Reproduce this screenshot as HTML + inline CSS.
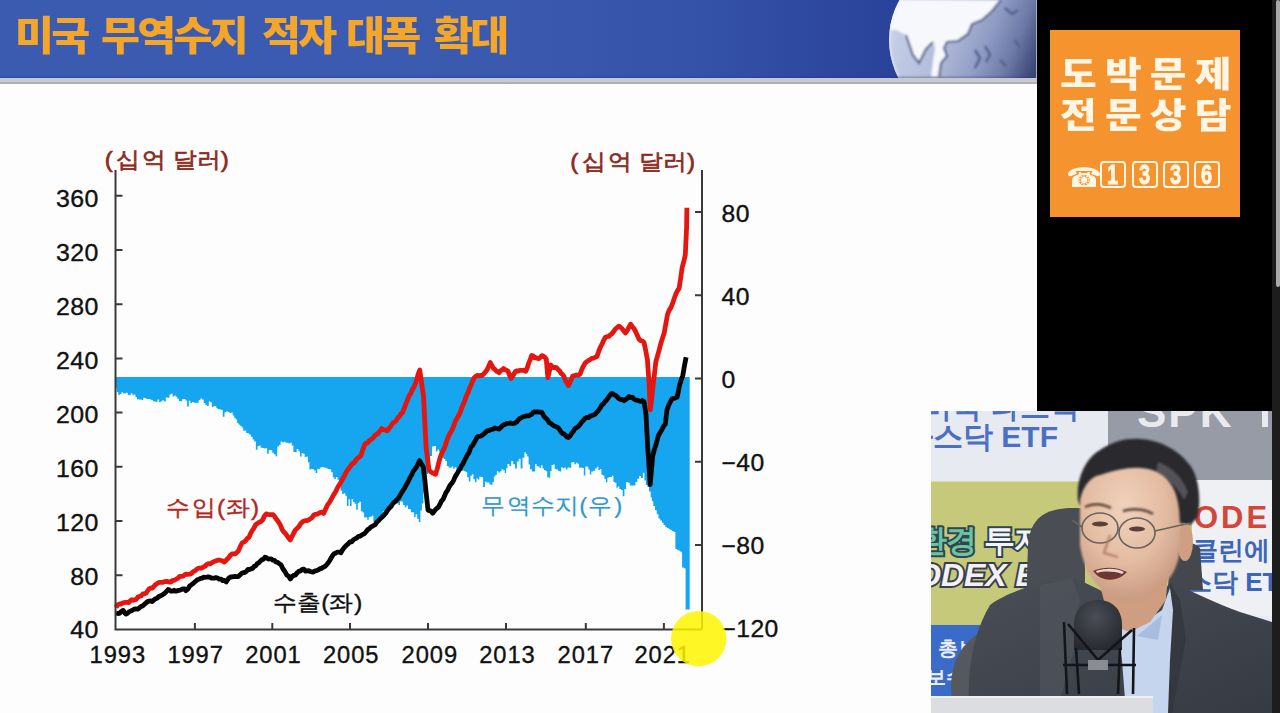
<!DOCTYPE html>
<html lang="ko">
<head>
<meta charset="utf-8">
<title>미국 무역수지 적자 대폭 확대</title>
<style>
html,body{margin:0;padding:0;}
body{width:1280px;height:713px;overflow:hidden;position:relative;background:#fdfdfd;font-family:"Liberation Sans","Noto Sans CJK KR",sans-serif;}
.abs{position:absolute;}
#hdr{left:0;top:0;width:1036px;height:78px;overflow:hidden;
  background:linear-gradient(90deg,#3a5bb0 0%,#3a5bb1 35%,#3a59ae 52%,#3452a8 68%,#2d479f 80%,#2a4299 87%,#283e95 100%);}
#title{left:0;top:8px;width:1036px;height:60px;font-family:"Liberation Sans","Noto Sans CJK KR",sans-serif;font-weight:900;font-size:40px;line-height:56px;color:#f3a62a;letter-spacing:-2.6px;white-space:nowrap;}
#title span{position:absolute;top:0;transform:scaleX(1.06);transform-origin:0 0;}
#strip{left:0;top:78px;width:1037px;height:6px;background:linear-gradient(#c3c8cf,#c8ccd2 40%,#c4c7cc 70%,#a4a5a9 78%,#b8b9bc 100%);}
#hshade{left:0;top:75px;width:1036px;height:3px;background:linear-gradient(rgba(40,50,110,0),rgba(40,50,110,0.35));}
#rpanel{left:1037px;top:0;width:235px;height:411px;background:#000;}
#rline{left:1035.5px;top:0;width:1.5px;height:78px;background:#a9aeb8;}
#obox{left:1050px;top:30px;width:190px;height:187px;background:#f5932f;}
#scroll{left:1272px;top:0;width:8px;height:713px;background:#1d1d1d;}
#thumb{left:1276px;top:0;width:4px;height:287px;background:#aaaaaa;border-radius:2px;}
svg text{font-family:"Liberation Sans",sans-serif;}
#video{left:931px;top:411px;width:341px;height:302px;overflow:hidden;background:#e7eaf0;}
#video div{position:absolute;}
</style>
</head>
<body>
<div id="hdr" class="abs">
  <svg width="1036" height="78" style="position:absolute;left:0;top:0">
    <defs>
      <linearGradient id="ocean" x1="0" y1="0" x2="1" y2="0.4">
        <stop offset="0" stop-color="#d3daee"/>
        <stop offset="0.45" stop-color="#b4bedc"/>
        <stop offset="0.7" stop-color="#8f9bc3"/>
        <stop offset="0.86" stop-color="#6c79a6"/>
        <stop offset="1" stop-color="#3c4878"/>
      </linearGradient>
      <clipPath id="gc"><circle cx="970" cy="40" r="81"/></clipPath>
      <filter id="gb"><feGaussianBlur stdDeviation="0.8"/></filter>
    </defs>
    <circle cx="970" cy="40" r="81" fill="url(#ocean)"/>
    <g clip-path="url(#gc)" filter="url(#gb)">
      <path d="M880,0 L1001,0 L992,11 L982,20 L972,24 L968,34 L958,41 L947,42 L944,48 L947,56 L941,63 L939,77 L931,77 L933,60 L935,48 L933,42 L926,49 L919,63 L913,55 L906,35 L896,30 L880,30 Z" fill="#f6f8fc"/>
      <path d="M1001,0 L992,11 L982,20 L972,24 L968,34 L958,41 L947,42 L944,48 L947,56 L941,63 L939,77 M933,42 L926,49 L919,63 L913,55 L906,35" stroke="#5d6890" stroke-width="2.2" fill="none"/>
      <path d="M1005,8 L1012,14 L1018,10 M985,46 L990,55 L986,62 M1000,60 L1006,66 M1015,40 L1020,48 M975,50 L980,58 L975,68" stroke="#56628c" stroke-width="2.5" fill="none"/>
      <circle cx="970" cy="40" r="81" fill="none" stroke="#eef1f8" stroke-width="4" opacity="0.5"/>
    </g>
  </svg>
  <div id="title" class="abs"><span style="left:14.5px">미국</span><span style="left:101px">무역수지</span><span style="left:261.7px">적자</span><span style="left:346px">대폭</span><span style="left:433.6px">확대</span></div>
</div>
<div id="hshade" class="abs"></div><div id="strip" class="abs"></div>
<div id="rline" class="abs"></div>
<div id="rpanel" class="abs"></div>
<div id="obox" class="abs">
  <div class="ot" style="left:10px;top:25px;">도박문제</div>
  <div class="ot" style="left:10px;top:66px;">전문상담</div>
  <div class="ph">☎</div>
  <div class="bx" style="left:50px"><span>1</span></div>
  <div class="bx" style="left:82px"><span>3</span></div>
  <div class="bx" style="left:113px"><span>3</span></div>
  <div class="bx" style="left:144px"><span>6</span></div>
</div>
<style>
.ot{position:absolute;font-family:"Liberation Sans","Noto Sans CJK KR",sans-serif;font-weight:900;color:#fff6e6;white-space:nowrap;font-size:35px;line-height:40px;letter-spacing:7.2px;transform:scaleX(1.14);transform-origin:0 0;}
.ph{position:absolute;left:16px;top:131px;font-family:"DejaVu Sans",sans-serif;font-size:29px;line-height:34px;color:#fff6e6;transform:scaleY(0.92);transform-origin:0 50%;}
.bx{position:absolute;top:131px;width:22px;height:22.5px;border:2px solid #fff6e6;border-radius:4px;font-family:"Liberation Sans",sans-serif;font-weight:700;font-size:27px;line-height:25px;text-align:center;color:#fff6e6;}
.bx span{display:inline-block;transform:scaleX(0.74);-webkit-text-stroke:0.9px #fff6e6;}
</style>
<div id="scroll" class="abs"></div>
<div id="thumb" class="abs"></div>

<svg class="abs" style="left:0;top:0" width="1280" height="713">
  <polygon points="115.5,377.0 116.0,388.2 116.7,388.2 116.7,392.0 118.3,392.0 118.3,395.1 119.8,395.1 119.8,393.9 121.4,393.9 121.4,392.3 123.0,392.3 123.0,393.2 124.6,393.2 124.6,393.5 126.1,393.5 126.1,392.7 127.7,392.7 127.7,395.1 129.3,395.1 129.3,395.0 130.8,395.0 130.8,393.2 132.4,393.2 132.4,395.0 133.9,395.0 133.9,394.4 135.4,394.4 135.4,396.9 136.9,396.9 136.9,399.2 138.5,399.2 138.5,399.6 140.1,399.6 140.1,399.4 141.7,399.4 141.7,400.0 143.3,400.0 143.3,397.7 144.8,397.7 144.8,398.2 146.4,398.2 146.4,399.1 148.0,399.1 148.0,398.9 149.6,398.9 149.6,399.3 151.2,399.3 151.2,400.1 152.8,400.1 152.8,401.3 154.4,401.3 154.4,401.5 156.0,401.5 156.0,401.9 157.5,401.9 157.5,399.6 159.1,399.6 159.1,402.2 160.7,402.2 160.7,401.2 162.3,401.2 162.3,400.3 163.9,400.3 163.9,401.6 165.8,401.6 165.8,397.5 167.6,397.5 167.6,397.7 169.5,397.7 169.5,394.5 171.1,394.5 171.1,393.7 172.6,393.7 172.6,396.6 174.2,396.6 174.2,395.6 175.7,395.6 175.7,396.7 177.3,396.7 177.3,398.7 178.9,398.7 178.9,401.0 180.6,401.0 180.6,401.3 182.2,401.3 182.2,398.9 183.8,398.9 183.8,399.0 185.5,399.0 185.5,400.5 187.1,400.5 187.1,406.4 188.8,406.4 188.8,400.8 190.4,400.8 190.4,402.9 192.0,402.9 192.0,401.9 193.7,401.9 193.7,402.7 195.3,402.7 195.3,402.8 197.0,402.8 197.0,402.8 198.7,402.8 198.7,400.1 200.3,400.1 200.3,398.4 202.0,398.4 202.0,399.5 203.7,399.5 203.7,403.1 205.4,403.1 205.4,405.1 207.1,405.1 207.1,406.1 208.8,406.1 208.8,401.3 210.3,401.3 210.3,402.3 211.8,402.3 211.8,407.1 213.3,407.1 213.3,405.9 214.8,405.9 214.8,405.9 216.3,405.9 216.3,408.3 217.8,408.3 217.8,408.9 219.5,408.9 219.5,409.5 221.2,409.5 221.2,409.8 222.8,409.8 222.8,416.7 224.5,416.7 224.5,412.3 226.2,412.3 226.2,411.3 227.8,411.3 227.8,411.9 229.5,411.9 229.5,413.0 231.2,413.0 231.2,412.6 232.7,412.6 232.7,415.5 234.2,415.5 234.2,418.1 235.7,418.1 235.7,419.5 237.2,419.5 237.2,423.2 238.7,423.2 238.7,424.8 240.2,424.8 240.2,426.1 241.7,426.1 241.7,427.6 243.2,427.6 243.2,430.8 244.7,430.8 244.7,430.5 246.2,430.5 246.2,432.9 247.7,432.9 247.7,433.3 249.2,433.3 249.2,434.5 250.9,434.5 250.9,436.7 252.6,436.7 252.6,439.4 254.2,439.4 254.2,441.6 255.9,441.6 255.9,449.8 257.5,449.8 257.5,446.0 259.1,446.0 259.1,445.5 260.7,445.5 260.7,447.8 262.3,447.8 262.3,448.0 263.9,448.0 263.9,448.6 265.5,448.6 265.5,448.3 267.1,448.3 267.1,453.8 268.8,453.8 268.8,449.9 270.5,449.9 270.5,450.0 272.2,450.0 272.2,452.8 273.9,452.8 273.9,454.3 275.6,454.3 275.6,456.2 277.2,456.2 277.2,446.5 278.9,446.5 278.9,445.1 280.6,445.1 280.6,441.5 282.2,441.5 282.2,442.5 283.8,442.5 283.8,441.7 285.4,441.7 285.4,442.7 287.0,442.7 287.0,442.7 288.6,442.7 288.6,443.5 290.2,443.5 290.2,442.8 291.8,442.8 291.8,445.4 293.4,445.4 293.4,452.1 295.1,452.1 295.1,452.3 296.7,452.3 296.7,449.0 298.4,449.0 298.4,451.3 300.0,451.3 300.0,456.5 301.6,456.5 301.6,453.1 303.1,453.1 303.1,453.7 304.7,453.7 304.7,456.9 306.3,456.9 306.3,456.6 307.9,456.6 307.9,462.2 309.4,462.2 309.4,469.4 310.9,469.4 310.9,469.0 312.5,469.0 312.5,469.3 314.1,469.3 314.1,470.4 315.6,470.4 315.6,473.1 317.2,473.1 317.2,468.9 318.7,468.9 318.7,468.8 320.3,468.8 320.3,467.6 321.9,467.6 321.9,467.0 323.4,467.0 323.4,467.6 325.0,467.6 325.0,467.8 326.5,467.8 326.5,468.4 328.1,468.4 328.1,469.1 329.7,469.1 329.7,469.6 331.2,469.6 331.2,472.3 332.8,472.3 332.8,477.3 334.3,477.3 334.3,478.9 335.9,478.9 335.9,477.0 337.5,477.0 337.5,479.7 339.0,479.7 339.0,486.4 340.6,486.4 340.6,490.7 342.2,490.7 342.2,493.9 343.8,493.9 343.8,493.3 345.3,493.3 345.3,495.8 346.9,495.8 346.9,506.0 348.5,506.0 348.5,499.3 350.0,499.3 350.0,505.9 351.6,505.9 351.6,499.1 353.1,499.1 353.1,502.3 354.7,502.3 354.7,503.8 356.2,503.8 356.2,509.7 357.8,509.7 357.8,503.1 359.3,503.1 359.3,501.7 360.9,501.7 360.9,511.2 362.5,511.2 362.5,512.4 364.1,512.4 364.1,517.6 365.7,517.6 365.7,517.2 367.2,517.2 367.2,519.8 368.8,519.8 368.8,517.1 370.3,517.1 370.3,516.6 371.9,516.6 371.9,515.8 373.4,515.8 373.4,521.9 375.0,521.9 375.0,521.3 376.6,521.3 376.6,519.6 378.1,519.6 378.1,518.1 379.7,518.1 379.7,515.7 381.3,515.7 381.3,516.8 382.9,516.8 382.9,511.2 384.4,511.2 384.4,515.3 385.9,515.3 385.9,511.7 387.5,511.7 387.5,509.4 389.1,509.4 389.1,507.5 390.6,507.5 390.6,506.2 392.2,506.2 392.2,506.5 393.8,506.5 393.8,502.2 395.4,502.2 395.4,502.5 396.9,502.5 396.9,503.2 398.4,503.2 398.4,505.0 400.0,505.0 400.0,501.2 401.6,501.2 401.6,501.8 403.1,501.8 403.1,505.1 404.7,505.1 404.7,507.2 406.3,507.2 406.3,505.6 407.9,505.6 407.9,509.0 409.4,509.0 409.4,509.2 410.9,509.2 410.9,512.2 412.5,512.2 412.5,512.2 414.1,512.2 414.1,517.1 415.6,517.1 415.6,514.3 417.2,514.3 417.2,518.8 418.8,518.8 418.8,521.9 420.4,521.9 420.4,510.5 421.9,510.5 421.9,503.6 423.4,503.6 423.4,492.2 425.0,492.2 425.0,478.1 426.6,478.1 426.6,474.0 428.1,474.0 428.1,468.8 430.1,468.8 430.1,456.1 432.0,456.1 432.0,446.6 433.9,446.6 433.9,446.0 435.9,446.0 435.9,451.4 437.5,451.4 437.5,449.6 439.0,449.6 439.0,451.5 440.6,451.5 440.6,457.3 442.2,457.3 442.2,457.8 443.7,457.8 443.7,459.1 445.3,459.1 445.3,460.9 446.9,460.9 446.9,466.0 448.5,466.0 448.5,467.4 450.0,467.4 450.0,467.7 451.6,467.7 451.6,466.5 453.2,466.5 453.2,468.8 454.7,468.8 454.7,467.3 456.3,467.3 456.3,471.3 457.9,471.3 457.9,469.5 459.4,469.5 459.4,469.6 461.0,469.6 461.0,471.1 462.5,471.1 462.5,470.6 464.1,470.6 464.1,471.3 465.7,471.3 465.7,471.9 467.2,471.9 467.2,477.2 468.8,477.2 468.8,481.6 470.4,481.6 470.4,475.7 471.9,475.7 471.9,474.2 473.4,474.2 473.4,479.2 475.0,479.2 475.0,482.2 476.5,482.2 476.5,478.4 477.9,478.4 477.9,479.4 479.4,479.4 479.4,476.8 481.3,476.8 481.3,476.9 483.1,476.9 483.1,487.0 485.0,487.0 485.0,481.8 486.5,481.8 486.5,482.4 488.0,482.4 488.0,482.6 489.5,482.6 489.5,484.5 491.0,484.5 491.0,484.8 492.5,484.8 492.5,482.0 493.9,482.0 493.9,476.5 495.3,476.5 495.3,474.9 496.9,474.9 496.9,470.9 498.4,470.9 498.4,472.5 500.0,472.5 500.0,471.2 501.6,471.2 501.6,469.2 503.1,469.2 503.1,470.3 504.7,470.3 504.7,473.1 506.1,473.1 506.1,468.3 507.5,468.3 507.5,463.9 509.4,463.9 509.4,465.9 511.2,465.9 511.2,461.0 513.1,461.0 513.1,464.3 515.0,464.3 515.0,468.6 516.9,468.6 516.9,461.5 518.8,461.5 518.8,458.7 520.6,458.7 520.6,468.6 522.5,468.6 522.5,457.7 524.4,457.7 524.4,452.3 525.8,452.3 525.8,453.9 527.2,453.9 527.2,456.4 528.6,456.4 528.6,464.6 530.0,464.6 530.0,469.3 531.9,469.3 531.9,471.5 533.8,471.5 533.8,471.5 535.2,471.5 535.2,464.0 536.6,464.0 536.6,465.9 538.0,465.9 538.0,466.5 539.4,466.5 539.4,468.1 540.9,468.1 540.9,465.3 542.5,465.3 542.5,468.6 544.0,468.6 544.0,470.1 545.6,470.1 545.6,471.2 547.2,471.2 547.2,477.2 548.8,477.2 548.8,477.7 550.2,477.7 550.2,471.1 551.6,471.1 551.6,465.1 553.1,465.1 553.1,464.6 554.7,464.6 554.7,469.1 556.2,469.1 556.2,469.6 558.1,469.6 558.1,470.9 559.7,470.9 559.7,471.6 561.2,471.6 561.2,467.2 562.8,467.2 562.8,468.3 564.4,468.3 564.4,467.5 565.9,467.5 565.9,469.5 567.5,469.5 567.5,467.5 569.4,467.5 569.4,467.7 571.2,467.7 571.2,462.3 572.9,462.3 572.9,462.1 574.5,462.1 574.5,464.2 576.0,464.2 576.0,462.7 577.5,462.7 577.5,463.8 579.0,463.8 579.0,467.8 580.6,467.8 580.6,467.6 582.3,467.6 582.3,468.1 583.8,468.1 583.8,475.5 585.3,475.5 585.3,466.6 586.8,466.6 586.8,466.8 588.3,466.8 588.3,469.4 589.8,469.4 589.8,474.4 591.3,474.4 591.3,471.4 593.2,471.4 593.2,470.8 595.0,470.8 595.0,468.5 596.9,468.5 596.9,466.8 598.4,466.8 598.4,470.1 599.9,470.1 599.9,469.0 601.4,469.0 601.4,474.8 602.9,474.8 602.9,475.5 604.4,475.5 604.4,479.1 605.9,479.1 605.9,482.3 607.4,482.3 607.4,477.8 608.9,477.8 608.9,476.9 610.4,476.9 610.4,476.9 611.9,476.9 611.9,475.8 613.4,475.8 613.4,482.1 614.9,482.1 614.9,482.8 616.4,482.8 616.4,487.7 617.8,487.7 617.8,486.5 619.3,486.5 619.3,489.1 621.0,489.1 621.0,490.0 622.7,490.0 622.7,496.2 624.4,496.2 624.4,489.1 626.1,489.1 626.1,481.9 628.0,481.9 628.0,482.7 629.8,482.7 629.8,485.5 631.7,485.5 631.7,485.4 633.6,485.4 633.6,485.4 635.4,485.4 635.4,482.1 637.3,482.1 637.3,478.7 639.2,478.7 639.2,476.1 641.0,476.1 641.0,478.0 642.9,478.0 642.9,472.8 644.4,472.8 644.4,480.6 645.9,480.6 645.9,484.9 647.4,484.9 647.4,486.8 649.0,486.8 649.0,491.6 650.7,491.6 650.7,497.4 652.0,497.4 652.0,501.3 653.3,501.3 653.3,506.0 655.0,506.0 655.0,510.2 656.8,510.2 656.8,514.3 658.5,514.3 658.5,518.5 660.2,518.5 660.2,520.6 661.9,520.6 661.9,522.8 663.6,522.8 663.6,524.9 665.3,524.9 665.3,527.0 667.0,527.0 667.0,528.0 668.7,528.0 668.7,529.0 670.3,529.0 670.3,530.0 672.0,530.0 672.0,531.0 673.7,531.0 673.7,532.0 675.4,532.0 675.4,548.9 676.9,548.9 676.9,549.7 678.3,549.7 678.3,550.5 679.8,550.5 679.8,551.4 681.3,551.4 681.3,552.2 682.1,552.2 682.1,567.4 683.8,567.4 683.8,568.2 685.5,568.2 685.5,569.1 685.6,569.1 685.6,609.6 687.0,609.6 687.0,609.6 688.3,609.6 688.3,609.6 689.7,609.6 689.7,609.6 689.7,609.6 689.7,377.0" fill="#16a5ef"/>
  <polyline points="116.0,613.1 117.8,613.5 119.5,613.4 121.3,611.5 123.1,610.4 124.5,612.6 125.9,614.1 127.4,613.3 128.9,611.9 130.4,611.2 131.9,610.5 133.4,609.7 135.0,608.9 136.5,609.0 138.1,609.0 139.5,607.7 140.9,606.6 142.6,606.0 144.2,604.5 145.8,603.1 147.5,601.6 149.1,601.1 150.6,600.8 152.2,601.6 153.8,600.1 155.5,598.7 157.1,598.2 158.8,596.5 160.6,595.9 162.5,594.7 164.4,593.4 166.2,591.7 168.1,589.5 169.6,590.1 171.1,591.2 172.6,591.2 174.1,590.3 175.6,591.2 177.1,590.9 178.6,590.3 180.1,590.1 181.6,589.4 183.1,588.8 184.5,589.0 185.9,590.7 187.8,589.2 189.7,586.0 191.6,584.6 193.1,583.6 194.6,582.1 196.1,580.9 197.6,579.6 199.1,579.2 200.6,578.3 202.1,578.3 203.6,577.2 205.1,577.3 206.6,577.2 208.2,576.9 209.7,577.1 211.2,578.0 212.8,578.2 214.3,578.1 215.9,577.7 217.6,578.1 219.3,579.2 221.1,579.1 222.8,580.6 224.5,580.5 226.2,581.9 228.3,578.7 230.3,577.0 231.9,577.0 233.5,576.6 235.1,576.4 236.7,576.6 238.3,576.6 239.9,575.0 241.5,573.5 243.1,572.7 244.7,572.6 246.3,571.4 247.9,569.5 249.4,569.5 250.9,568.8 252.5,568.4 254.1,566.4 255.6,566.0 257.2,563.7 258.7,562.9 260.3,561.2 261.9,559.6 263.4,559.3 265.0,557.1 266.6,557.8 268.1,559.0 269.6,558.8 271.2,558.8 272.8,560.2 274.3,560.3 276.0,562.0 277.6,562.3 279.3,563.7 281.0,564.7 282.9,568.8 284.9,571.5 286.7,574.9 288.5,576.1 290.3,579.0 291.9,576.8 293.6,575.4 295.2,575.1 296.9,573.1 298.7,571.4 300.5,570.9 302.3,569.4 303.9,569.2 305.5,571.1 307.0,570.8 308.6,570.7 310.2,571.5 311.8,571.8 313.4,572.1 315.0,570.9 316.6,570.6 318.2,569.8 319.8,568.9 321.4,568.4 323.0,567.4 324.6,566.6 326.2,565.2 327.8,563.3 329.4,561.0 331.0,558.3 332.6,555.5 334.2,553.7 335.9,553.0 337.5,552.1 339.2,552.1 340.9,552.7 342.9,549.2 344.9,546.9 346.5,545.3 348.1,543.9 349.9,542.0 351.6,541.8 353.4,539.8 355.1,538.8 356.7,538.0 358.3,536.5 359.9,536.4 361.4,535.3 363.0,534.3 364.6,533.5 366.1,531.7 367.6,529.7 369.2,528.8 370.7,527.2 372.2,526.3 373.7,525.5 375.2,524.7 376.7,522.3 378.2,521.0 379.7,519.4 381.3,517.8 382.9,516.2 384.4,514.7 386.0,512.9 387.6,510.2 389.2,508.2 390.7,506.9 392.2,504.5 393.8,502.6 395.3,501.6 396.8,499.8 398.3,498.5 399.8,495.8 401.4,493.1 402.9,490.7 404.4,488.5 405.9,485.5 407.4,483.0 408.9,480.1 410.4,476.9 411.9,474.4 413.4,471.0 414.9,469.2 416.5,467.0 418.0,464.0 419.5,460.6 421.4,463.7 423.3,467.0 424.9,480.6 426.4,495.3 428.0,510.1 429.6,510.6 431.1,511.2 432.7,513.2 434.6,510.7 436.5,508.7 438.4,507.2 439.9,504.4 441.4,501.1 443.0,499.4 444.5,496.1 446.0,492.5 447.5,490.6 449.0,487.2 450.6,484.6 452.1,482.9 453.6,480.4 455.2,476.6 456.8,474.1 458.4,471.4 460.0,468.8 461.5,465.9 462.9,463.9 464.4,460.8 465.9,457.8 467.3,454.9 468.8,453.0 471.2,446.5 472.5,445.6 473.8,443.3 475.5,440.4 477.1,437.0 478.9,436.3 480.8,436.1 482.6,434.9 484.4,433.5 485.9,432.0 487.4,430.6 488.8,430.7 490.3,429.7 491.8,429.3 493.3,429.1 494.8,427.9 496.2,428.4 497.7,428.8 499.2,429.0 500.7,427.5 502.1,426.0 503.6,424.9 505.1,424.4 506.9,423.4 508.6,423.3 510.4,423.0 512.1,423.6 513.9,423.4 515.4,422.8 516.9,421.9 518.3,420.0 519.8,418.5 521.3,417.8 523.1,416.7 525.0,416.2 526.8,415.9 528.6,415.9 530.1,414.9 531.6,414.5 533.0,412.6 534.5,411.7 536.0,412.1 537.5,411.7 539.0,412.2 540.4,412.1 541.9,412.4 543.4,415.2 544.8,417.5 546.3,418.7 547.8,420.3 549.2,422.7 550.7,423.2 552.2,424.6 553.6,425.7 555.1,426.2 556.6,427.0 558.1,427.7 559.6,429.6 561.0,432.0 562.5,433.5 564.0,433.9 565.5,435.3 566.9,437.0 568.4,437.6 570.0,436.1 571.7,433.3 573.4,431.2 575.0,428.4 576.7,427.7 578.4,426.3 580.1,424.4 581.7,422.0 583.4,420.5 585.1,418.3 586.8,417.5 588.5,417.6 590.2,416.1 591.8,415.6 593.5,415.0 595.2,414.2 596.9,412.1 598.6,410.3 600.3,407.7 602.0,404.7 603.4,403.9 604.8,401.7 606.2,400.6 607.9,398.2 609.5,395.8 611.2,393.6 612.7,393.6 614.2,394.8 615.8,395.5 617.3,396.9 618.8,398.6 620.5,399.5 622.2,399.4 623.9,400.7 625.6,399.5 627.2,398.4 628.9,396.6 630.6,397.7 632.2,397.2 633.9,399.0 635.6,400.0 637.3,400.2 639.0,401.0 640.6,401.5 642.3,400.5 644.0,401.5 646.0,414.4 647.7,447.1 649.0,466.2 650.2,484.6 651.5,469.6 652.7,456.1 654.2,450.2 655.7,445.6 657.1,440.4 658.6,435.0 660.3,432.4 662.0,429.5 663.6,426.1 665.3,424.2 667.0,409.8 668.7,405.2 670.4,401.8 672.1,398.8 673.8,398.4 675.4,398.0 677.1,397.1 678.4,391.4 679.6,384.9 681.2,379.9 682.8,375.5 684.5,365.5 686.1,357.2" fill="none" stroke="#050505" stroke-width="4.8" stroke-linejoin="round"/>
  <polyline points="116.0,607.5 117.7,604.9 119.4,604.0 121.0,604.0 122.5,603.0 124.0,602.7 125.6,602.4 127.1,602.4 128.7,602.5 130.2,600.9 131.7,599.7 133.2,600.3 134.7,599.6 136.2,599.5 137.8,597.2 139.5,596.3 141.2,595.8 142.8,594.0 144.5,593.8 146.1,593.1 147.8,590.5 149.4,588.7 150.9,588.1 152.4,588.0 153.9,586.4 155.4,584.7 156.9,583.7 158.4,582.7 159.9,582.3 161.4,582.3 162.9,582.3 164.4,581.6 166.0,581.5 167.7,581.5 169.3,582.0 170.9,582.1 172.6,580.3 174.4,580.3 176.1,579.3 177.8,578.3 179.6,576.4 181.3,576.3 183.0,576.2 184.7,574.7 186.3,574.1 188.0,574.3 189.7,574.2 191.3,573.6 192.9,571.8 194.6,571.0 196.2,569.8 197.7,568.5 199.2,568.1 200.7,568.2 202.2,567.8 203.7,566.8 205.3,566.0 206.8,564.4 208.4,563.6 210.0,563.9 211.5,563.0 213.1,561.9 214.7,561.3 216.2,560.9 217.8,560.1 219.5,560.2 221.1,560.5 222.8,561.1 224.4,562.1 225.9,560.6 227.4,558.9 228.8,557.6 230.3,555.4 231.9,554.0 233.5,553.9 235.1,553.9 236.7,552.6 238.3,551.1 240.3,546.4 242.3,542.7 244.0,542.1 245.7,540.5 247.3,538.5 249.0,537.2 250.7,533.3 252.3,530.3 253.9,528.1 255.6,524.8 257.4,523.6 259.2,522.2 261.0,521.5 262.8,519.7 264.5,515.8 266.3,513.9 268.0,514.3 269.6,514.6 271.3,514.6 273.0,514.6 274.8,516.8 276.5,519.3 278.3,521.7 280.3,524.8 282.3,529.9 283.9,532.0 285.5,533.5 287.1,535.8 288.7,538.0 290.3,540.0 292.1,536.3 293.8,533.0 295.6,529.7 297.3,528.2 299.0,526.4 300.6,523.8 302.3,522.1 303.9,521.0 305.6,520.6 307.2,520.5 308.9,519.8 310.6,518.6 312.2,517.3 313.9,515.0 315.6,514.3 317.2,514.2 318.8,513.2 320.4,512.5 322.0,512.2 323.6,513.4 325.6,509.1 327.6,504.7 329.2,502.8 330.9,499.9 332.6,496.7 334.2,493.9 335.6,491.7 337.1,488.6 338.6,485.8 340.0,483.8 341.5,481.1 343.0,478.1 344.6,475.6 346.1,472.3 347.6,469.9 349.1,468.2 350.6,466.0 352.1,463.8 353.6,463.2 355.1,461.2 357.0,458.7 358.9,457.3 360.8,455.9 362.7,450.1 364.6,444.8 366.1,443.3 367.6,442.7 369.2,440.7 370.7,439.9 372.2,438.7 373.8,437.1 375.3,434.9 376.9,434.3 378.5,432.9 380.0,430.9 381.6,428.6 383.5,429.7 385.4,430.0 387.3,430.9 388.8,428.6 390.3,427.1 391.9,424.4 393.4,422.5 394.9,421.9 396.4,420.4 397.9,417.7 399.5,416.4 401.0,413.8 402.5,412.7 404.3,408.2 406.1,403.2 407.7,399.4 409.2,395.5 410.8,393.6 412.3,389.5 413.9,387.3 415.4,383.6 416.9,378.9 418.3,373.6 419.8,370.0 421.6,383.4 423.5,395.9 424.8,421.9 426.1,447.9 427.6,459.0 429.0,469.9 430.6,471.8 432.3,472.8 434.0,473.5 435.6,474.3 437.2,469.1 438.7,462.8 440.3,457.1 441.8,453.1 443.3,450.2 444.9,446.9 446.4,441.8 447.9,437.7 449.4,434.3 450.9,432.1 452.5,429.0 454.0,424.9 455.5,420.9 457.0,418.3 458.5,415.7 460.0,413.0 461.7,407.8 463.4,404.0 465.1,399.6 466.8,394.8 468.3,392.1 469.7,387.7 471.2,384.6 472.7,381.0 474.1,377.9 475.6,376.4 477.1,375.4 478.6,375.8 480.0,375.5 481.5,375.7 483.0,374.8 484.9,372.5 486.7,370.4 488.5,366.9 490.3,362.5 491.8,365.5 493.3,368.2 494.8,369.3 496.3,371.0 497.7,371.7 499.2,372.7 500.7,370.6 502.1,369.9 503.6,368.5 505.1,369.8 506.5,370.1 508.0,371.2 509.5,375.2 511.0,378.4 512.5,376.5 513.9,374.0 515.4,371.4 516.9,370.8 518.3,371.2 519.8,370.4 521.3,370.3 522.8,370.3 524.2,370.2 525.7,371.3 527.2,368.0 528.7,363.1 530.1,359.9 531.6,355.5 533.1,355.9 534.5,357.8 536.0,357.6 537.5,358.3 539.0,358.6 540.4,357.3 541.9,355.6 543.4,356.2 544.8,357.2 546.3,359.1 547.8,377.6 549.2,372.0 550.7,365.0 552.2,366.6 553.7,367.7 555.1,367.5 556.6,367.7 558.1,369.6 559.5,370.8 561.0,373.3 562.5,374.4 564.0,376.5 565.5,380.7 566.9,382.8 568.4,385.6 569.9,382.6 571.3,379.4 572.8,375.8 574.5,375.7 576.3,375.0 578.2,375.3 580.1,374.0 581.8,369.6 583.4,366.1 585.1,363.1 586.8,361.7 588.5,360.6 590.2,359.5 591.9,358.3 593.5,358.1 595.2,357.3 596.9,356.6 598.6,351.7 600.3,347.3 602.0,344.2 603.6,340.5 605.3,337.3 607.0,336.6 608.7,336.4 610.4,334.8 612.1,333.5 613.8,331.2 615.5,328.9 617.1,327.7 618.8,326.1 620.5,327.2 622.1,328.7 623.8,330.9 625.5,332.9 627.2,330.5 628.9,327.4 630.6,324.2 632.3,326.5 633.9,328.5 635.6,331.5 637.3,335.2 639.0,339.1 640.7,340.6 642.3,341.0 644.0,342.3 645.7,350.6 647.4,359.6 649.1,383.8 650.3,409.9 651.8,397.5 653.3,383.6 654.5,373.7 655.8,362.0 657.5,355.9 659.2,349.9 660.9,343.2 662.5,338.1 664.2,333.1 665.9,323.3 667.6,314.1 669.3,310.1 671.0,307.4 672.7,303.1 674.5,297.8 676.0,293.6 677.6,290.5 679.1,288.4 680.7,278.0 682.2,267.5 683.8,261.4 685.3,255.0 686.6,227.4 686.9,207.8" fill="none" stroke="#e3170f" stroke-width="4.8" stroke-linejoin="round"/>
  <g stroke="#3a3a3a" stroke-width="2" fill="none">
    <path d="M115.5,170 V629.5 H702 M702,170 V629.5"/>
    <path d="M115.5,195.8 h7 M115.5,250 h7 M115.5,304.2 h7 M115.5,358.4 h7 M115.5,412.6 h7 M115.5,466.8 h7 M115.5,521 h7 M115.5,575.2 h7"/>
    <path d="M702,211.9 h-7 M702,295.2 h-7 M702,378.5 h-7 M702,461.8 h-7 M702,545.1 h-7"/>
    <path d="M194.9,629 v-6 M272.3,629 v-6 M350,629 v-6 M428,629 v-6 M506,629 v-6 M585.8,629 v-6 M663.9,629 v-6"/>
  </g>
  <g font-size="23.5" fill="#111" stroke="#111" stroke-width="0.35" letter-spacing="0.4">
    <text transform="translate(98.9,206.6) scale(1.06,1)" text-anchor="end">360</text>
    <text transform="translate(98.9,260.8) scale(1.06,1)" text-anchor="end">320</text>
    <text transform="translate(98.9,315) scale(1.06,1)" text-anchor="end">280</text>
    <text transform="translate(98.9,369.2) scale(1.06,1)" text-anchor="end">240</text>
    <text transform="translate(98.9,422.9) scale(1.06,1)" text-anchor="end">200</text>
    <text transform="translate(98.9,476.5) scale(1.06,1)" text-anchor="end">160</text>
    <text transform="translate(98.9,530.7) scale(1.06,1)" text-anchor="end">120</text>
    <text transform="translate(98.9,584.9) scale(1.06,1)" text-anchor="end">80</text>
    <text transform="translate(98.9,637.5) scale(1.06,1)" text-anchor="end">40</text>
    <text transform="translate(721.5,221.6) scale(1.05,1)" text-anchor="start">80</text>
    <text transform="translate(721.5,304.7) scale(1.05,1)" text-anchor="start">40</text>
    <text transform="translate(721.5,387.8) scale(1.05,1)" text-anchor="start">0</text>
    <text transform="translate(721.5,470.9) scale(1.05,1)" text-anchor="start">−40</text>
    <text transform="translate(721.5,554.0) scale(1.05,1)" text-anchor="start">−80</text>
    <text transform="translate(721.5,637.1) scale(1.05,1)" text-anchor="start">−120</text>
    <text transform="translate(117.8,663.2) scale(1.01,1)" text-anchor="middle" letter-spacing="0.9">1993</text>
    <text transform="translate(195.6,663.2) scale(1.01,1)" text-anchor="middle" letter-spacing="0.9">1997</text>
    <text transform="translate(273.4,663.2) scale(1.01,1)" text-anchor="middle" letter-spacing="0.9">2001</text>
    <text transform="translate(351.2,663.2) scale(1.01,1)" text-anchor="middle" letter-spacing="0.9">2005</text>
    <text transform="translate(429.8,663.2) scale(1.01,1)" text-anchor="middle" letter-spacing="0.9">2009</text>
    <text transform="translate(507.4,663.2) scale(1.01,1)" text-anchor="middle" letter-spacing="0.9">2013</text>
    <text transform="translate(585.8,663.2) scale(1.01,1)" text-anchor="middle" letter-spacing="0.9">2017</text>
    <text transform="translate(662.7,663.2) scale(1.01,1)" text-anchor="middle" letter-spacing="0.9">2021</text>
  </g>
  <g style="font-family:'Liberation Sans','NanumGothic',sans-serif" font-size="22.4">
    <text transform="translate(0,167.0) scale(1.08,1)" x="96.94 107.04 131.34 141.34 160.28 182.27 204.31" y="0" fill="#8a2a20" font-weight="400" stroke="#8a2a20" stroke-width="0.65">(십억 달러)</text>
    <text transform="translate(0,169.2) scale(1.08,1)" x="528.06 538.75 563.06 573.06 591.99 613.43 636.02" y="0" fill="#8a2a20" font-weight="400" stroke="#8a2a20" stroke-width="0.65">(십억 달러)</text>
    <text transform="translate(0,514.6) scale(1.08,1)" x="153.52 177.87 201.02 209.26 232.31" y="0" fill="#b3261c" font-weight="400" stroke="#b3261c" stroke-width="0.4">수입(좌)</text>
    <text transform="translate(0,609.8) scale(1.08,1)" x="252.41 275.09 297.41 304.44 327.96" y="0" fill="#111111" font-weight="400" stroke="#111111" stroke-width="0.4">수출(좌)</text>
    <text transform="translate(0,512.6) scale(1.08,1)" x="445.09 469.07 491.76 513.98 536.39 544.07 568.70" y="0" fill="#3497cf" font-weight="400" stroke="#3497cf" stroke-width="0.2">무역수지(우)</text>
  </g>
  <circle cx="698.7" cy="638.7" r="27.7" fill="#fff500" fill-opacity="0.85"/>
</svg>

<div id="video" class="abs">
<svg width="341" height="302" viewBox="931 411 341 302" style="position:absolute;left:0;top:0">
  <defs>
    <filter id="bl1" x="-20%" y="-20%" width="140%" height="140%"><feGaussianBlur stdDeviation="1.2"/></filter>
    <filter id="bl2" x="-20%" y="-20%" width="140%" height="140%"><feGaussianBlur stdDeviation="2.5"/></filter>
    <filter id="bl4" x="-30%" y="-30%" width="160%" height="160%"><feGaussianBlur stdDeviation="4"/></filter>
    <radialGradient id="face" cx="0.45" cy="0.3" r="0.75">
      <stop offset="0" stop-color="#f0d2bc"/>
      <stop offset="0.55" stop-color="#e3bba1"/>
      <stop offset="1" stop-color="#c4957b"/>
    </radialGradient>
    <linearGradient id="suitg" x1="0" y1="0" x2="1" y2="1">
      <stop offset="0" stop-color="#4a4e57"/>
      <stop offset="1" stop-color="#363a42"/>
    </linearGradient>
    <radialGradient id="micg" cx="0.45" cy="0.35" r="0.7">
      <stop offset="0" stop-color="#4a4d56"/>
      <stop offset="1" stop-color="#26282e"/>
    </radialGradient>
  </defs>
  <!-- backdrop panels -->
  <rect x="931" y="411" width="177" height="71" fill="#e7eaf0"/>
  <rect x="1108" y="411" width="164" height="69" fill="#969ba5"/>
  <rect x="931" y="481.5" width="264" height="144" fill="#c6c979"/>
  <rect x="1192" y="480" width="80" height="136" fill="#eef0f4"/>
  <rect x="931" y="625" width="70" height="72" fill="#3b6bc9"/>
  <!-- backdrop text -->
  <g font-family="'Liberation Sans','Noto Sans CJK KR',sans-serif" font-weight="900">
    <text x="1080" y="417" font-size="30" fill="#4a6fc3" text-anchor="end">저렴한 미국 나스닥</text>
    <text x="1058" y="447" font-size="30" fill="#4a6fc3" text-anchor="end">나스닥 ETF</text>
    <text x="1137" y="427" font-size="44" fill="#e9eaee" font-family="'Liberation Sans',sans-serif" font-weight="700" letter-spacing="2">SPK</text><rect x="1262" y="411" width="6" height="16" fill="#e9eaee"/>
    <text x="1194" y="528" font-size="31" fill="#d4463a" font-family="'Liberation Sans',sans-serif" font-weight="700" letter-spacing="3">ODE</text>
    <text x="1192" y="559" font-size="26" fill="#3d64bb">클린에너</text>
    <text x="1186" y="591" font-size="26" fill="#3d64bb">스닥 ET</text>
    <text x="916" y="551" font-size="31" fill="#6cc3a2" stroke="#2f4650" stroke-width="4" paint-order="stroke" letter-spacing="-1">환경 <tspan fill="#f4f4f8">투자</tspan></text>
    <text x="916" y="586" font-size="32" fill="#f1f1f6" stroke="#3a3d4c" stroke-width="4" paint-order="stroke" font-family="'Liberation Sans',sans-serif" font-weight="700" font-style="italic">ODEX E</text>
    <text x="938" y="655" font-size="20" fill="#e8eef8" font-weight="700">총보</text>
    <text x="926" y="684" font-size="20" fill="#e8eef8" font-weight="700">보수</text>
  </g>
  <!-- chair -->
  <path d="M1026,610 L1028,545 C1030,518 1045,509 1070,508 L1085,508 L1085,610 Z" fill="#4a4d53"/>
  <path d="M1168,590 L1170,548 C1175,540 1192,540 1200,548 L1203,590 Z" fill="#44474d"/>
  <path d="M952,700 C948,668 958,642 988,628 L996,640 C978,652 970,672 972,700 Z" fill="#55585e"/>
  <!-- suit -->
  <path d="M968,713 L969,680 C971,650 978,625 990,605 C1002,596 1022,588 1045,582 L1075,578 L1100,590 L1125,610 L1165,590 L1170,582 C1190,590 1215,603 1240,612 L1272,622 L1272,713 Z" fill="url(#suitg)"/>
  <path d="M1040,585 L1072,578 L1080,600 L1074,650 L1060,700 L1040,700 Z" fill="#50545c" opacity="0.7"/>
  <path d="M1170,582 L1180,600 L1186,640 L1172,713 L1160,713 Z" fill="#2f333a" opacity="0.6"/>
  <!-- shirt -->
  <path d="M1118,628 L1140,625 L1162,610 L1170,588 L1173,610 L1170,660 L1168,713 L1126,713 L1122,660 Z" fill="#c6d5ee"/>
  <path d="M1137,636 L1162,615 L1158,640 Z" fill="#a9bde0"/>
  <!-- neck / chin -->
  <path d="M1100,585 L1168,570 L1166,600 L1150,622 L1130,632 L1110,625 Z" fill="#cf9d80"/>
  <!-- hair -->
  <path d="M1078,500 C1076,478 1086,458 1100,450 C1115,440 1128,438 1140,439 C1160,440 1180,450 1192,468 C1200,482 1201,505 1197,518 L1190,525 L1080,505 Z" fill="#2c2c2f" filter="url(#bl1)"/>
  <path d="M1158,462 C1170,466 1182,476 1188,492 L1184,500 C1178,488 1168,478 1156,472 Z" fill="#5d5d62" opacity="0.8" filter="url(#bl1)"/>
  <!-- ear -->
  <ellipse cx="1185" cy="542" rx="8" ry="19" fill="#cf9f84"/>
  <!-- face -->
  <path d="M1080,500 C1083,485 1092,476 1100,475 C1115,470 1130,467 1140,468 C1155,469 1165,474 1172,486 C1178,496 1180,510 1180,530 L1179,556 C1176,570 1170,580 1160,588 C1150,597 1140,602 1130,602 C1118,601 1108,596 1097,585 C1088,575 1082,560 1080,545 Z" fill="url(#face)" filter="url(#bl1)"/>
  <!-- eyebrows/eyes -->
  <path d="M1085,507 C1093,503 1103,504 1111,508 M1123,511 C1133,508 1145,509 1153,514" stroke="#5a4238" stroke-width="2.5" fill="none" filter="url(#bl1)"/>
  <ellipse cx="1100" cy="524" rx="8" ry="2.5" fill="#5a4036"/>
  <ellipse cx="1137" cy="529" rx="8" ry="2.5" fill="#5a4036"/>
  <!-- glasses -->
  <g stroke="#6a625e" stroke-width="1.6" fill="none">
    <ellipse cx="1100" cy="528" rx="18" ry="15"/>
    <ellipse cx="1137" cy="533" rx="18" ry="15"/>
    <path d="M1118,529 L1119,530 M1155,531 L1190,523 M1082,527 L1072,520"/>
  </g>
  <!-- nose & mouth -->
  <path d="M1110,535 L1104,553 L1118,557" stroke="#b07f66" stroke-width="2.2" fill="none" filter="url(#bl1)"/>
  <path d="M1093,571 C1105,566 1117,567 1127,572 C1118,582 1102,583 1093,571 Z" fill="#6e3634"/>
  <path d="M1096,571 C1106,568 1116,568 1124,572 L1122,574 C1114,571 1104,571 1097,573 Z" fill="#e8d6cf"/>
  <!-- mic -->
  <path d="M1074,650 L1074,625 C1074,608 1085,600 1098,600 C1111,600 1122,608 1122,625 L1122,650 Z" fill="url(#micg)"/>
  <g stroke="#141518" stroke-width="2.6" fill="none">
    <path d="M1064,622 L1067,694 M1134,628 L1133,694 M1076,648 L1079,694 M1120,648 L1118,694 M1063,665 L1136,665 M1068,624 L1098,660 L1132,630"/>
  </g>
  <rect x="1088" y="660" width="20" height="10" fill="#8a8c92"/>
  <!-- desk/monitor -->
  <rect x="931" y="696" width="222" height="17" fill="#dcdde0"/>
  <rect x="931" y="696" width="222" height="2" fill="#eeeff1"/>
</svg>
</div>
</body>
</html>
